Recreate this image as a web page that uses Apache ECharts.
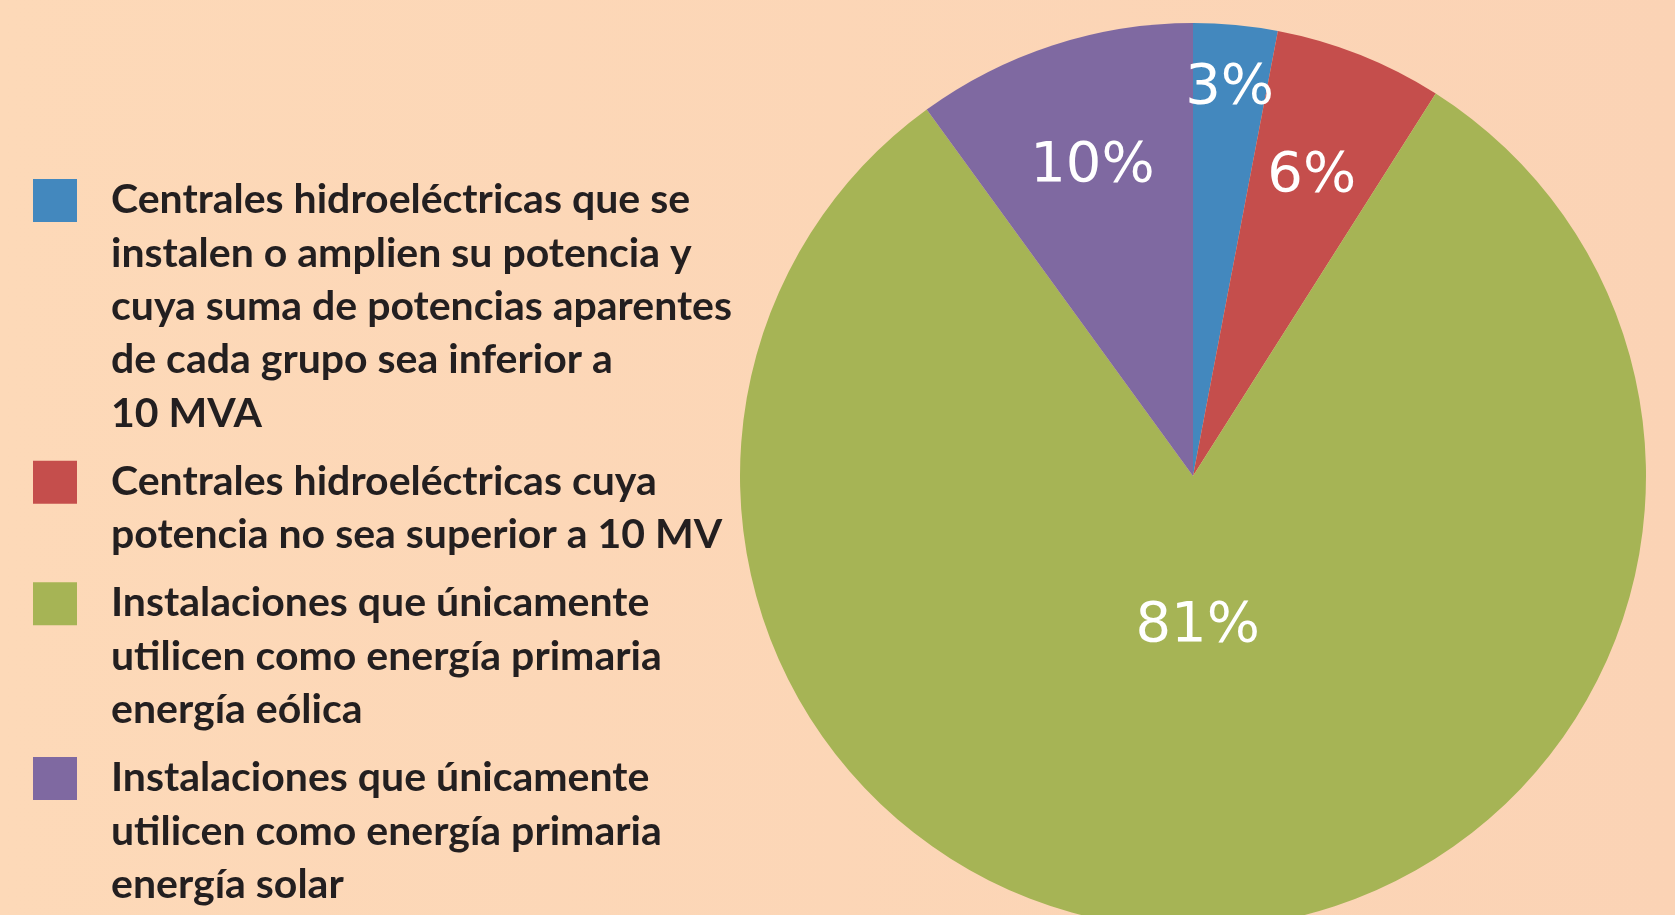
<!DOCTYPE html>
<html>
<head>
<meta charset="utf-8">
<script src="https://cdn.jsdelivr.net/npm/echarts@6/dist/echarts.min.js"></script>
<style>
  html, body { margin: 0; padding: 0; }
  #chart { width: 1675px; height: 915px; }
</style>
</head>
<body>
<div id="chart"></div>
<script>
// categorias (saltos de linea como en la leyenda original)
const categories = [
  'Centrales hidroeléctricas que se\ninstalen o amplien su potencia y\ncuya suma de potencias aparentes\nde cada grupo sea inferior a\n10 MVA',
  'Centrales hidroeléctricas cuya\npotencia no sea superior a 10 MV',
  'Instalaciones que únicamente\nutilicen como energía primaria\nenergía eólica',
  'Instalaciones que únicamente\nutilicen como energía primaria\nenergía solar',
]
const values = [3, 6, 81, 10]
const colors = ['#4388be', '#c54e4c', '#a6b455', '#7f69a1']

// radio relativo donde va cada etiqueta de porcentaje
const labelRing = [0.853, 0.705, 0.325, 0.712]

const R = 453
const center = [1193, 476]

const chart = echarts.init(document.getElementById('chart'))

const data = categories.map((name, i) => ({
  name,
  value: values[i],
  itemStyle: { color: colors[i] },
}))

const labelSeries = categories.map((_, i) => ({
  type: 'pie',
  silent: true,
  center,
  radius: [(labelRing[i] - 0.01) * R, (labelRing[i] + 0.01) * R],
  startAngle: 90,
  itemStyle: { color: 'rgba(0,0,0,0)', borderWidth: 0 },
  labelLine: { show: false },
  data: categories.map((name, j) => ({
    name,
    value: values[j],
    label: { show: j === i },
  })),
  label: {
    position: 'inside',
    formatter: '{d}%',
    color: '#fff',
    fontFamily: 'DejaVu Sans',
    fontSize: 56,
    fontWeight: 'normal',
    overflow: 'none',
  },
}))

// leyenda dibujada a mano: cuadro alineado con la primera linea
const lineH = 53.4
const blockGap = 14.7
let firstLine = 200
const legend = []
categories.forEach((name, i) => {
  const nLines = name.split('\n').length
  legend.push({
    type: 'rect',
    shape: { x: 33, y: firstLine - 21, width: 44, height: 43 },
    style: { fill: colors[i] },
  })
  legend.push({
    type: 'text',
    x: 111,
    y: firstLine - lineH / 2,
    style: {
      text: name,
      fill: '#231f20',
      font: 'bold 41px Lato',
      lineHeight: lineH,
      verticalAlign: 'top',
    },
  })
  firstLine += nLines * lineH + blockGap
})

chart.setOption({
  backgroundColor: {
    type: 'linear', x: 0, y: 0, x2: 1, y2: 0,
    colorStops: [
      { offset: 0, color: '#fdd9b8' },
      { offset: 1, color: '#fbd3b5' },
    ],
  },
  animation: false,
  graphic: legend,
  series: [
    {
      type: 'pie',
      center,
      radius: R,
      startAngle: 90,
      silent: true,
      label: { show: false },
      labelLine: { show: false },
      itemStyle: { borderWidth: 0 },
      data,
    },
    ...labelSeries,
  ],
})
</script>
</body>
</html>
